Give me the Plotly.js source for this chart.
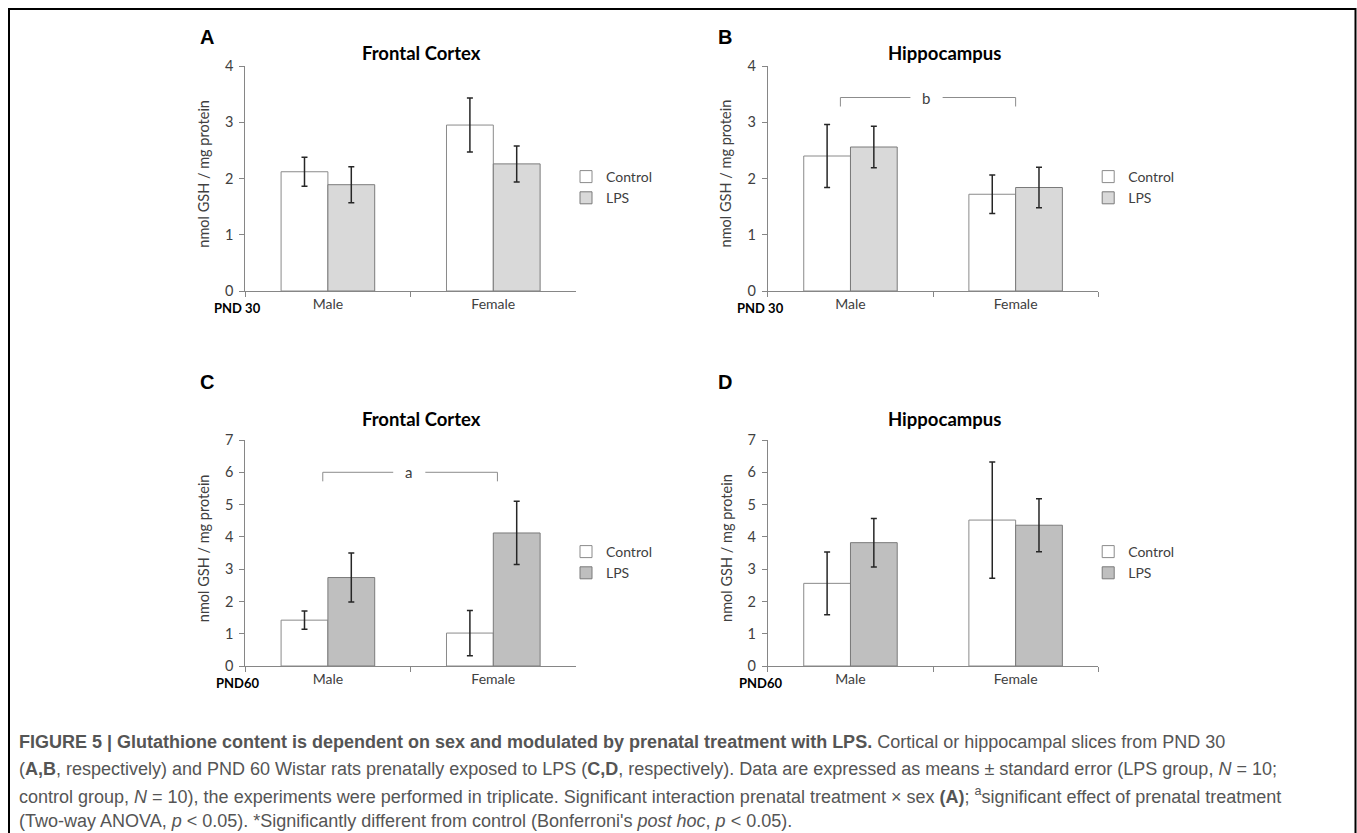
<!DOCTYPE html>
<html>
<head>
<meta charset="utf-8">
<script src="https://cdn.plot.ly/plotly-3.0.1.min.js"></script>
<style>
  html, body { margin: 0; padding: 0; background: #ffffff; }
  #chart { width: 1357px; height: 833px; }
</style>
</head>
<body>
<div id="chart"></div>
<script>
// ---------------- DATA ----------------
const categories = ['Male', 'Female'];
const seriesNames = ['Control', 'LPS'];

const pnd30FrontalControl = [2.12, 2.95];
const pnd30FrontalControlErr = [0.26, 0.48];
const pnd30FrontalLPS = [1.89, 2.26];
const pnd30FrontalLPSErr = [0.32, 0.32];

const pnd30HippoControl = [2.40, 1.72];
const pnd30HippoControlErr = [0.56, 0.34];
const pnd30HippoLPS = [2.56, 1.84];
const pnd30HippoLPSErr = [0.37, 0.36];

const pnd60FrontalControl = [1.42, 1.02];
const pnd60FrontalControlErr = [0.28, 0.70];
const pnd60FrontalLPS = [2.74, 4.12];
const pnd60FrontalLPSErr = [0.76, 0.98];

const pnd60HippoControl = [2.56, 4.52];
const pnd60HippoControlErr = [0.97, 1.80];
const pnd60HippoLPS = [3.82, 4.36];
const pnd60HippoLPSErr = [0.75, 0.82];

const panelLetters = ['A', 'B', 'C', 'D'];
const panelTitles = ['Frontal Cortex', 'Hippocampus', 'Frontal Cortex', 'Hippocampus'];
const ageLabels = ['PND 30', 'PND 30', 'PND60', 'PND60'];
const yAxisTitle = 'nmol GSH / mg protein';
const yTicksPND30 = [0, 1, 2, 3, 4];
const yTicksPND60 = [0, 1, 2, 3, 4, 5, 6, 7];
const sigLabels = ['', 'b', 'a', ''];

const captionLines = [
  '<b>FIGURE 5 | Glutathione content is dependent on sex and modulated by prenatal treatment with LPS.</b> Cortical or hippocampal slices from PND 30',
  '(<b>A,B</b>, respectively) and PND 60 Wistar rats prenatally exposed to LPS (<b>C,D</b>, respectively). Data are expressed as means ± standard error (LPS group, <i>N</i> = 10;',
  'control group, <i>N</i> = 10), the experiments were performed in triplicate. Significant interaction prenatal treatment × sex <b>(A)</b>; <sup>a</sup>significant effect of prenatal treatment',
  '(Two-way ANOVA, <i>p</i> &lt; 0.05). *Significantly different from control (Bonferroni\'s <i>post hoc</i>, <i>p</i> &lt; 0.05).'
];

// ---------------- LAYOUT HELPERS ----------------
const W = 1357, H = 833;
const px = x => x / W;
const py = y => 1 - y / H;

const FONT = 'Lato, "Open Sans", sans-serif';
const TXT = '#404040';
const AXC = '#868686';

const panels = [
  { ctrl: pnd30FrontalControl, ctrlErr: pnd30FrontalControlErr, lps: pnd30FrontalLPS, lpsErr: pnd30FrontalLPSErr,
    lpsColor: '#d9d9d9', ticks: yTicksPND30, x0: 245.2, x1: 576.0, y0: 66, y1: 291, row: 0, letterX: 206.6 },
  { ctrl: pnd30HippoControl, ctrlErr: pnd30HippoControlErr, lps: pnd30HippoLPS, lpsErr: pnd30HippoLPSErr,
    lpsColor: '#d9d9d9', ticks: yTicksPND30, x0: 767.9, x1: 1098.2, y0: 66, y1: 291, row: 0, letterX: 725 },
  { ctrl: pnd60FrontalControl, ctrlErr: pnd60FrontalControlErr, lps: pnd60FrontalLPS, lpsErr: pnd60FrontalLPSErr,
    lpsColor: '#bfbfbf', ticks: yTicksPND60, x0: 245.2, x1: 576.0, y0: 440, y1: 666, row: 1, letterX: 206.6 },
  { ctrl: pnd60HippoControl, ctrlErr: pnd60HippoControlErr, lps: pnd60HippoLPS, lpsErr: pnd60HippoLPSErr,
    lpsColor: '#bfbfbf', ticks: yTicksPND60, x0: 767.9, x1: 1098.2, y0: 440, y1: 666, row: 1, letterX: 725 }
];

const traces = [];
const layout = {
  width: W, height: H,
  margin: { l: 0, r: 0, t: 0, b: 0, pad: 0 },
  paper_bgcolor: '#ffffff', plot_bgcolor: '#ffffff',
  barmode: 'group', bargap: 0.434, bargroupgap: 0,
  font: { family: FONT, size: 14, color: TXT },
  annotations: [], shapes: []
};

panels.forEach((p, i) => {
  const n = i + 1;
  const xa = 'x' + (n === 1 ? '' : n), ya = 'y' + (n === 1 ? '' : n);
  const xKey = 'xaxis' + (n === 1 ? '' : n), yKey = 'yaxis' + (n === 1 ? '' : n);
  const legKey = 'legend' + (n === 1 ? '' : n);

  traces.push({
    type: 'bar', name: seriesNames[0], x: categories, y: p.ctrl, xaxis: xa, yaxis: ya,
    legend: legKey,
    marker: { color: '#ffffff', line: { color: '#8a8a8a', width: 1 } },
    error_y: { type: 'data', array: p.ctrlErr, visible: true, color: '#262626', thickness: 1.5, width: 3 },
    hoverinfo: 'skip'
  });
  traces.push({
    type: 'bar', name: seriesNames[1], x: categories, y: p.lps, xaxis: xa, yaxis: ya,
    legend: legKey,
    marker: { color: p.lpsColor, line: { color: '#7a7a7a', width: 1 } },
    error_y: { type: 'data', array: p.lpsErr, visible: true, color: '#262626', thickness: 1.5, width: 3 },
    hoverinfo: 'skip'
  });

  layout[xKey] = {
    domain: [px(p.x0), px(p.x1)], anchor: ya, type: 'category',
    showline: true, linecolor: AXC, linewidth: 1,
    ticks: 'outside', tickson: 'boundaries', ticklen: 5, tickcolor: AXC,
    showgrid: false, zeroline: false, fixedrange: true,
    tickfont: { family: FONT, size: 14, color: TXT }
  };
  layout[yKey] = {
    domain: [py(p.y1), py(p.y0)], anchor: xa,
    range: [0, p.ticks[p.ticks.length - 1]], tickvals: p.ticks,
    showline: true, linecolor: AXC, linewidth: 1,
    ticks: 'outside', ticklen: 5, tickcolor: AXC, ticklabelstandoff: 3,
    showgrid: false, zeroline: false, fixedrange: true,
    tickfont: { family: FONT, size: 14.5, color: TXT }
  };

  const legY = p.row === 0 ? 161 : 536;
  layout[legKey] = {
    x: px(p.x1 - 10), y: py(legY), xanchor: 'left', yanchor: 'top',
    bgcolor: 'rgba(0,0,0,0)', borderwidth: 0,
    font: { family: FONT, size: 14, color: TXT },
    itemclick: false, itemdoubleclick: false, traceorder: 'normal'
  };

  const left = p.x0;
  // panel letter
  layout.annotations.push({
    text: '<b>' + panelLetters[i] + '</b>', xref: 'paper', yref: 'paper',
    x: px(p.letterX), y: py(p.row === 0 ? 36.7 : 381.7), xanchor: 'center', yanchor: 'middle',
    showarrow: false, font: { family: '"Liberation Sans", Arial, sans-serif', size: 20, color: '#000000' }
  });
  // title
  layout.annotations.push({
    text: '<b>' + panelTitles[i] + '</b>', xref: 'paper', yref: 'paper',
    x: px(left + 176.5), y: py(p.row === 0 ? 53.3 : 419), xanchor: 'center', yanchor: 'middle',
    showarrow: false, font: { family: FONT, size: 18.5, color: '#000000' }
  });
  // y-axis title
  layout.annotations.push({
    text: yAxisTitle, xref: 'paper', yref: 'paper', textangle: -90,
    x: px(left - 42), y: py((p.y0 + p.y1) / 2 - 5), xanchor: 'center', yanchor: 'middle',
    showarrow: false, font: { family: FONT, size: 14.5, color: TXT }
  });
  // age label
  layout.annotations.push({
    text: '<b>' + ageLabels[i] + '</b>', xref: 'paper', yref: 'paper',
    x: px(left - 7.5), y: py(p.y1 + 17.3), xanchor: 'center', yanchor: 'middle',
    showarrow: false, font: { family: FONT, size: 13, color: '#000000' }
  });

  // significance bracket
  if (sigLabels[i]) {
    const br = i === 1 ? { l: -0.061, r: 1.0, g0: 0.363, g1: 0.558, t: 0.455, y: 3.44, yb: 3.28 }
                       : { l: -0.031, r: 1.025, g0: 0.395, g1: 0.589, t: 0.49, y: 6.0, yb: 5.72 };
    const lineStyle = { color: '#8c8c8c', width: 1 };
    [[br.l, br.yb, br.l, br.y], [br.l, br.y, br.g0, br.y], [br.g1, br.y, br.r, br.y], [br.r, br.y, br.r, br.yb]]
      .forEach(s => layout.shapes.push({ type: 'line', xref: xa, yref: ya, x0: s[0], y0: s[1], x1: s[2], y1: s[3], line: lineStyle }));
    layout.annotations.push({
      text: sigLabels[i], xref: xa, yref: ya, x: br.t, y: br.y, xanchor: 'center', yanchor: 'middle',
      showarrow: false, font: { family: FONT, size: 15, color: TXT }
    });
  }
});

// figure frame (top, left, right)
layout.shapes.push({
  type: 'path', xref: 'paper', yref: 'paper',
  path: 'M ' + px(9) + ' 0 L ' + px(9) + ' ' + py(9) + ' L ' + px(1355.5) + ' ' + py(9) + ' L ' + px(1355.5) + ' 0',
  line: { color: '#000000', width: 2 }
});

// caption
const captionY = [742, 768.5, 795, 821];
captionLines.forEach((t, k) => {
  layout.annotations.push({
    text: t, xref: 'paper', yref: 'paper', x: px(17), y: py(captionY[k]),
    xanchor: 'left', yanchor: 'middle', align: 'left', showarrow: false,
    font: { family: '"Liberation Sans", Arial, sans-serif', size: 18, color: '#555555' }
  });
});

Plotly.newPlot('chart', traces, layout, { displayModeBar: false, staticPlot: true });
</script>
</body>
</html>
